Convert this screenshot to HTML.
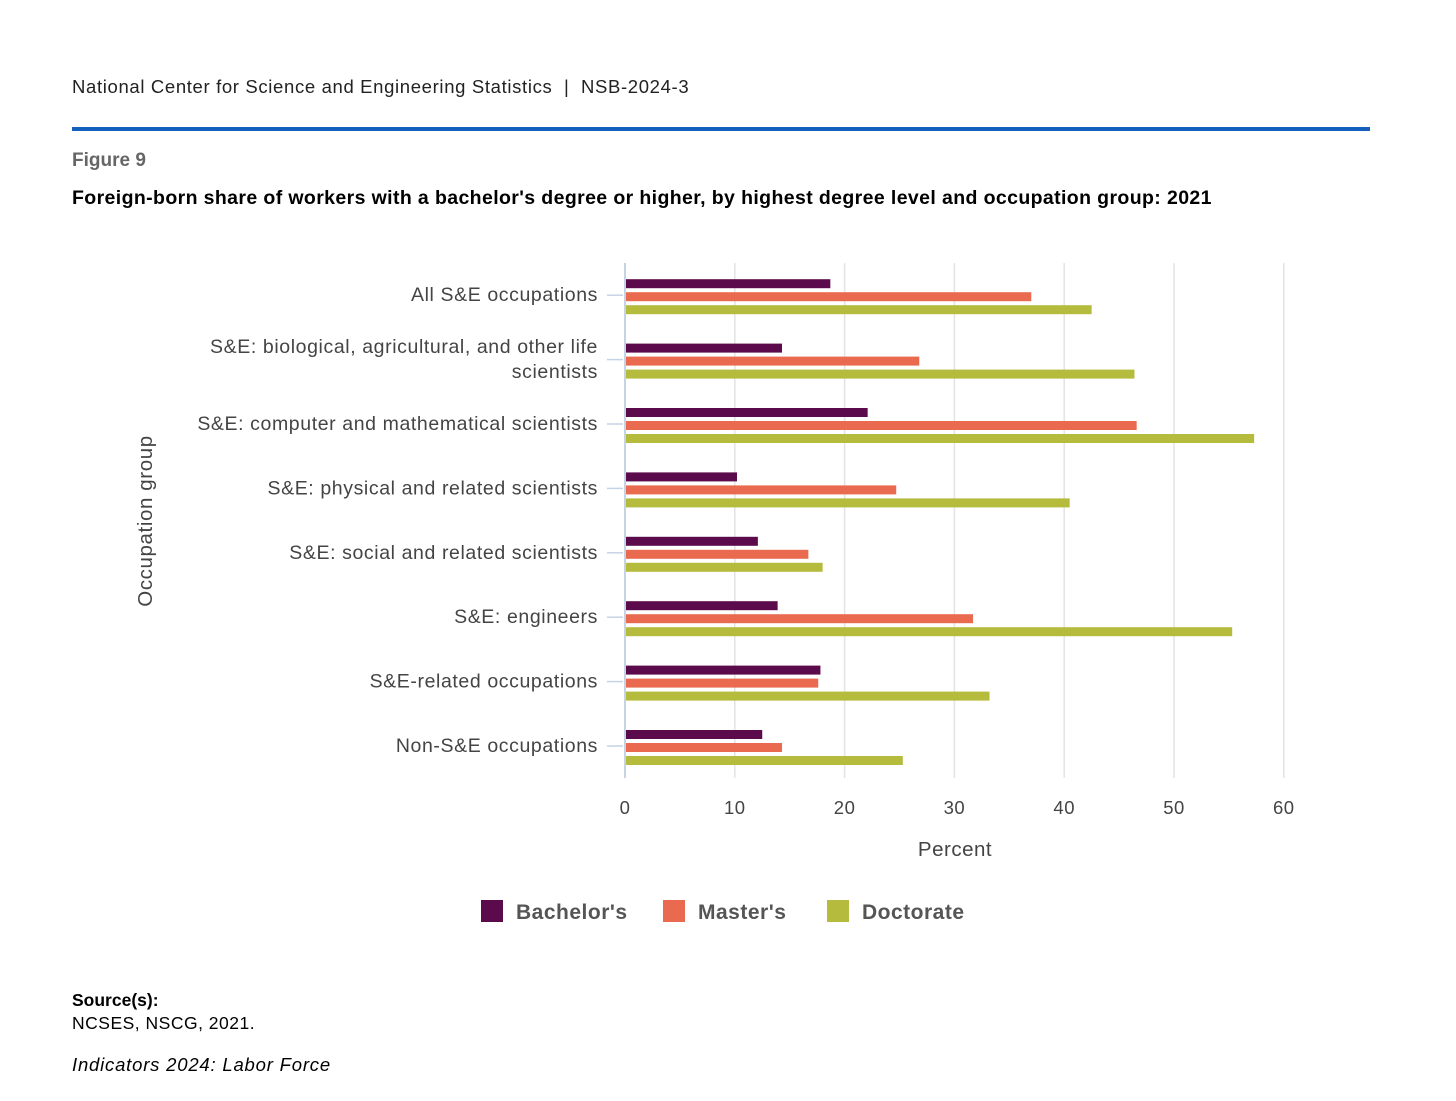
<!DOCTYPE html>
<html><head><meta charset="utf-8"><style>
body{margin:0;background:#fff;width:1456px;height:1101px;position:relative;font-family:"Liberation Sans",sans-serif;overflow:hidden}
.abs{position:absolute;margin:0}
</style></head><body>
<div class="abs" style="left:72px;top:76px;font-size:18.5px;letter-spacing:0.65px;color:#222">National Center for Science and Engineering Statistics &nbsp;|&nbsp; NSB-2024-3</div>
<div class="abs" style="left:72px;top:127px;width:1298px;height:4px;background:#1560bd"></div>
<div class="abs" style="left:72px;top:150px;font-size:19px;font-weight:bold;color:#666">Figure 9</div>
<div class="abs" style="left:72px;top:187px;font-size:19.5px;letter-spacing:0.38px;font-weight:bold;color:#000">Foreign-born share of workers with a bachelor's degree or higher, by highest degree level and occupation group: 2021</div>
<svg class="abs" style="left:0;top:0" width="1456" height="1101" id="chart"></svg>
<div class="abs" style="left:72px;top:990px;font-size:17.5px;font-weight:bold">Source(s):</div>
<div class="abs" style="left:72px;top:1013px;font-size:17.5px;letter-spacing:0.5px">NCSES, NSCG, 2021.</div>
<div class="abs" style="left:72px;top:1054px;font-size:18.5px;letter-spacing:0.8px;font-style:italic">Indicators 2024: Labor Force</div>
<script>
const categories=["All S&E occupations","S&E: biological, agricultural, and other life|scientists","S&E: computer and mathematical scientists","S&E: physical and related scientists","S&E: social and related scientists","S&E: engineers","S&E-related occupations","Non-S&E occupations"];
const bachelors=[18.7,14.3,22.1,10.2,12.1,13.9,17.8,12.5];
const masters=[37.0,26.8,46.6,24.7,16.7,31.7,17.6,14.3];
const doctorate=[42.5,46.4,57.3,40.5,18.0,55.3,33.2,25.3];
const ticks=[0,10,20,30,40,50,60];
const seriesNames=["Bachelor's","Master's","Doctorate"];
const colors=["#5b0a4b","#ea6a4f","#b5bb3c"];
const NS="http://www.w3.org/2000/svg";
const svg=document.getElementById('chart');
const x0=625,xs=10.98,top0=263,band=64.4;
const X=v=>x0+v*xs;
const Y=i=>top0+band*(i+0.5);
function mk(t,a,txt){const e=document.createElementNS(NS,t);for(const k in a)e.setAttribute(k,a[k]);if(txt!=null)e.textContent=txt;svg.appendChild(e);return e;}
ticks.forEach(t=>{
 const g=mk('line',{x1:X(t),x2:X(t),y1:263,y2:778,stroke:t===0?'#c5d3e3':'#e3e3e3','stroke-width':t===0?2:1.5});
 
 
 const l=mk('text',{x:X(t),y:814,'text-anchor':'middle','font-size':18.5,'letter-spacing':0.5,fill:'#444'},t);
 
 
});
const series=[bachelors,masters,doctorate];
categories.forEach((c,i)=>{
 const cy=Y(i);
 const tk=mk('line',{x1:607,x2:623,y1:cy,y2:cy,stroke:'#c5d3e3','stroke-width':1.5});
 
 
 const parts=c.split('|');
 parts.forEach((p,j)=>{
  const ty=cy+6+(j-(parts.length-1)/2)*25;
  const t=mk('text',{x:598,y:ty,'text-anchor':'end','font-size':19.5,'letter-spacing':0.6,fill:'#444'},p);
  
  
 });
 series.forEach((s,k)=>{
  const r=mk('rect',{x:X(0)+1,y:cy-16+k*13,width:Math.max(0,X(s[i])-X(0)-1),height:9,fill:colors[k]});
  
  
 });
});
const xt=mk('text',{x:955,y:856,'text-anchor':'middle','font-size':20.5,'letter-spacing':0.5,fill:'#444'},'Percent');


const yt=mk('text',{x:152,y:521,'text-anchor':'middle','font-size':20.5,'letter-spacing':0.6,fill:'#444',transform:'rotate(-90 152 521)'},'Occupation group');


const lx=[481,663,827];
seriesNames.forEach((n,k)=>{
 const r=mk('rect',{x:lx[k],y:900,width:22,height:22,fill:colors[k]});
 
 
 const t=mk('text',{x:lx[k]+35,y:919,'font-size':21,'letter-spacing':0.5,'font-weight':'bold',fill:'#555'},n);
 
 
});
</script>
</body></html>
